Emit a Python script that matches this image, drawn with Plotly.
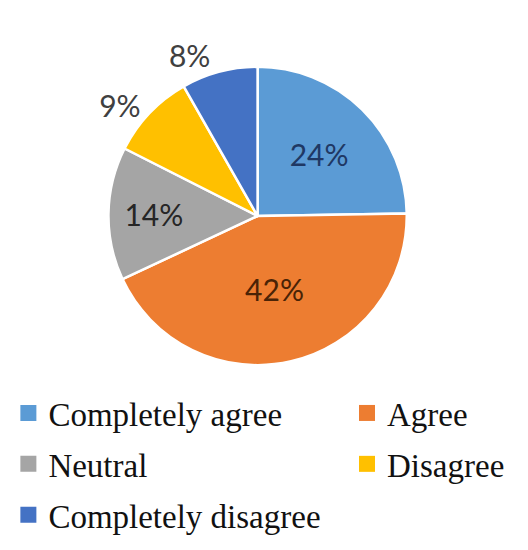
import plotly.graph_objects as go

labels = ["Completely agree", "Agree", "Neutral", "Disagree", "Completely disagree"]
values = [24, 42, 14, 9, 8]
colors = ["#5B9BD5", "#ED7D31", "#A5A5A5", "#FFC000", "#4472C4"]
text_colors = ["#1F3864", "#4A2306", "#262626", "#404040", "#404040"]
text_pos = ["inside", "inside", "inside", "outside", "outside"]
# which legend column each entry goes to
legend_col = ["legend", "legend2", "legend", "legend2", "legend"]

fig = go.Figure()

fig.add_trace(go.Pie(
    labels=labels, values=values, sort=False, direction="clockwise", rotation=0,
    marker=dict(colors=colors, line=dict(color="white", width=2.5)),
    texttemplate="%{value}%", textposition=text_pos,
    insidetextorientation="horizontal",
    textfont=dict(family="Lato", size=30, color=text_colors),
    domain=dict(x=[98 / 528, 398 / 528], y=[1 - 358 / 550, 1 - 58 / 550]),
    showlegend=False, hoverinfo="label+percent",
))

# legend entries as invisible marker traces so the two columns can be laid out
for lab, col, lg in zip(labels, colors, legend_col):
    fig.add_trace(go.Scatter(
        x=[None], y=[None], mode="markers", name=lab, legend=lg, legendgroup=lab,
        marker=dict(symbol="square", size=16, color=col),
    ))

legend_style = dict(
    font=dict(family="Liberation Serif", size=33, color="#111111"),
    traceorder="grouped", tracegroupgap=5, itemwidth=30,
    bgcolor="rgba(0,0,0,0)", yanchor="top", xanchor="left",
)

fig.update_layout(
    width=528, height=550,
    margin=dict(l=0, r=0, t=0, b=0),
    paper_bgcolor="white", plot_bgcolor="white",
    xaxis=dict(visible=False), yaxis=dict(visible=False),
    legend=dict(x=-0.005, y=1 - 377 / 550, **legend_style),
    legend2=dict(x=0.64, y=1 - 377 / 550, **legend_style),
)

fig.write_html("out.html")
